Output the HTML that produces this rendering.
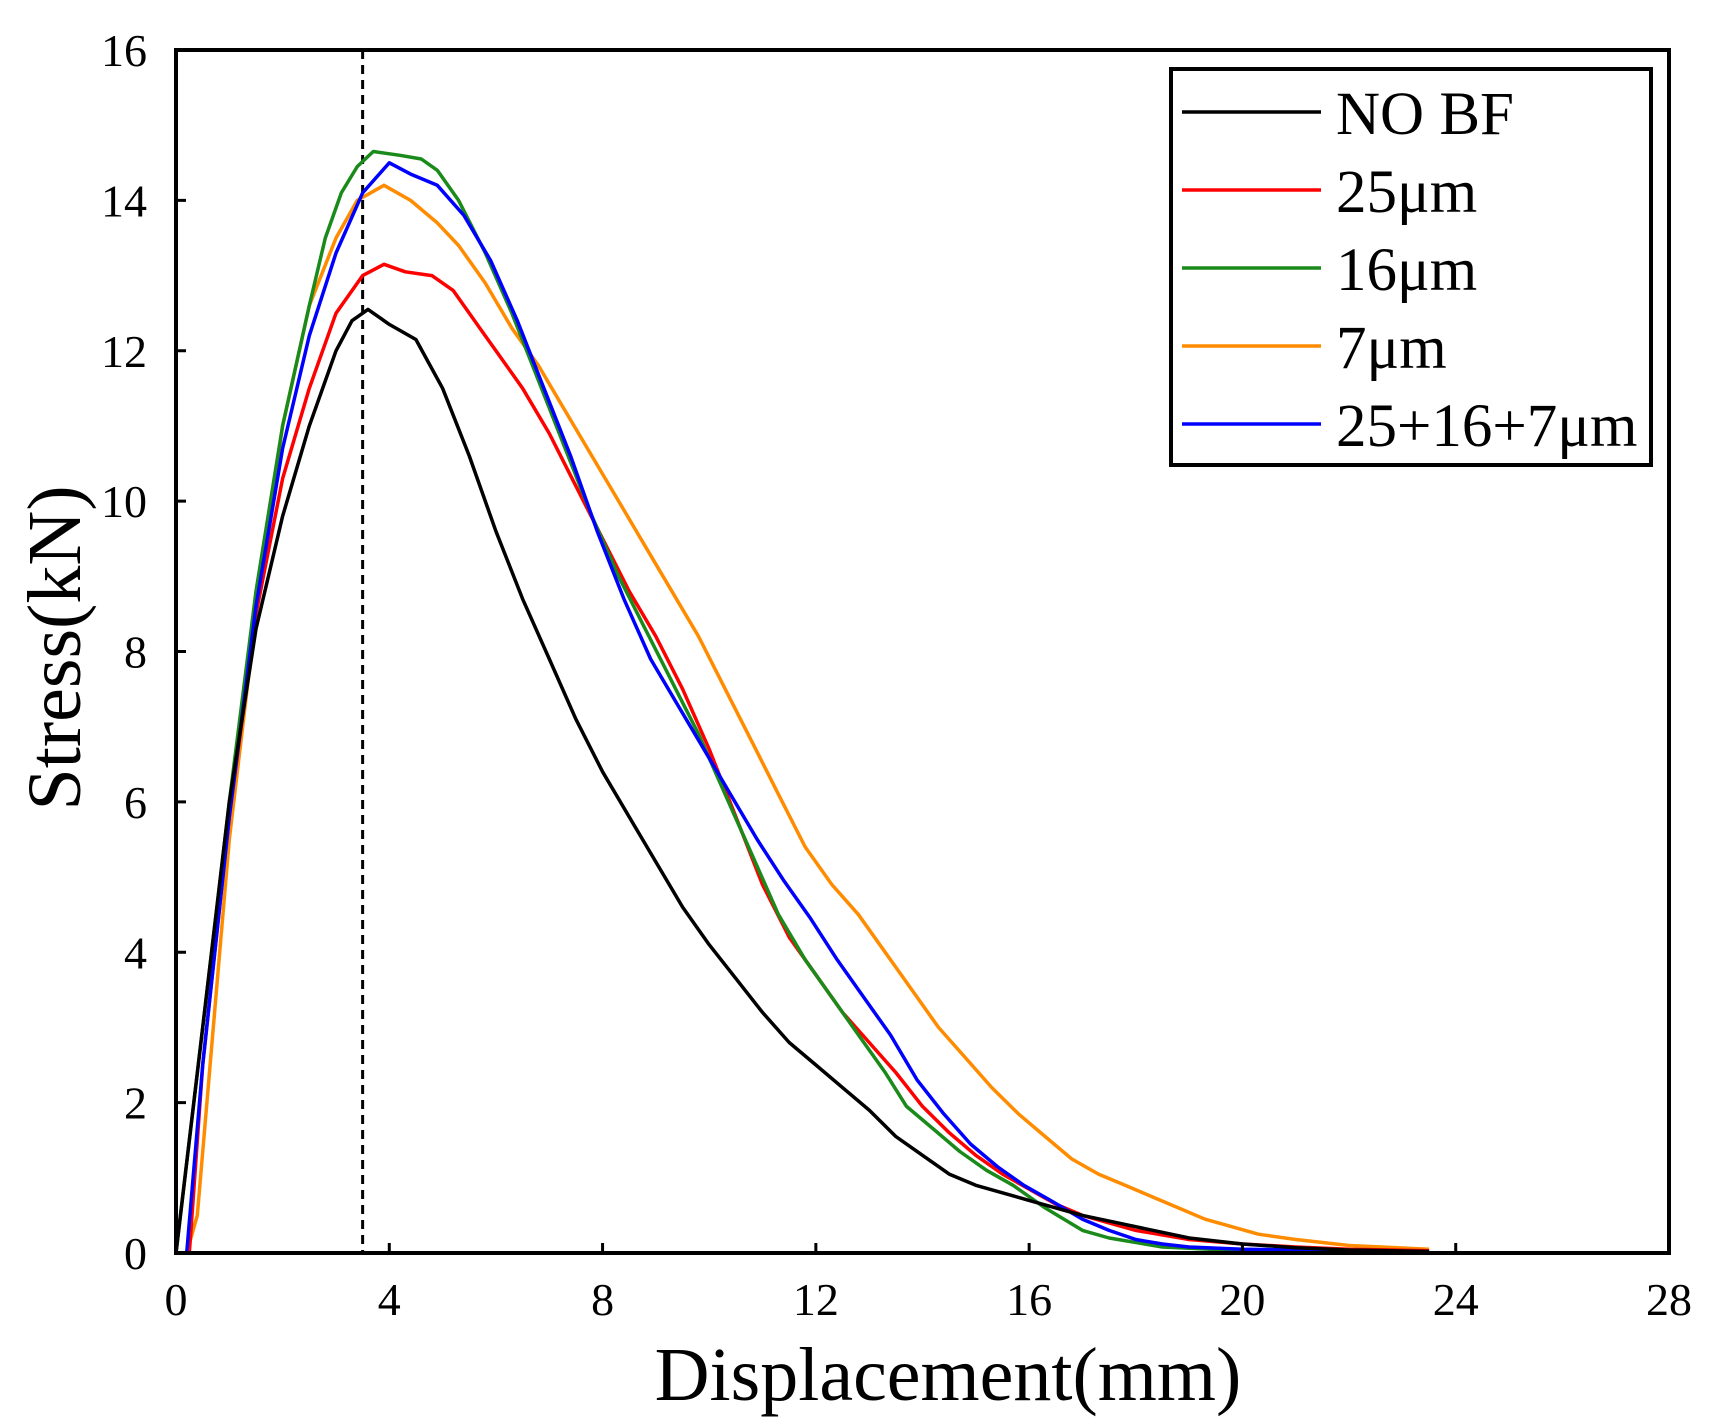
<!DOCTYPE html>
<html><head><meta charset="utf-8"><style>
body{margin:0;background:#fff}
svg{display:block}
text{font-family:"Liberation Serif",serif;fill:#000}
</style></head><body>
<svg id="chart" width="1714" height="1426" xmlns="http://www.w3.org/2000/svg">
<g id="series"></g>
<g id="axes"></g>
<g>
<rect x="1171" y="69" width="480" height="396" fill="#fff" stroke="#000" stroke-width="4"/>
<g id="legend-items"></g>
</g>
<text x="948" y="1400" font-size="76" text-anchor="middle">Displacement(mm)</text>
<text transform="translate(80,648) rotate(-90)" font-size="76" text-anchor="middle">Stress(kN)</text>
</svg>
<script>
const xTicks=[0,4,8,12,16,20,24,28];
const yTicks=[0,2,4,6,8,10,12,14,16];
const seriesNames=["NO BF","25μm","16μm","7μm","25+16+7μm"];
const seriesColors=["#000000","#ff0000","#1a8a1a","#ff8c00","#0000ff"];
const noBfX=[0,0.5,1,1.5,2,2.5,3,3.3,3.6,4,4.5,5,5.5,6,6.5,7,7.5,8,8.5,9,9.5,10,10.5,11,11.5,12,12.5,13,13.5,14,14.5,15,16,17,18,19,20,21,22,23.5];
const noBfY=[0,3,6,8.3,9.8,11,12,12.4,12.55,12.35,12.15,11.5,10.6,9.6,8.7,7.9,7.1,6.4,5.8,5.2,4.6,4.1,3.65,3.2,2.8,2.5,2.2,1.9,1.55,1.3,1.05,0.9,0.7,0.5,0.35,0.2,0.12,0.07,0.04,0.02];
const s25X=[0,0.25,0.5,1,1.5,2,2.5,3,3.5,3.9,4.3,4.8,5.2,5.7,6.5,7,7.5,8,8.5,9,9.5,10,10.5,11,11.5,12,12.5,13,13.5,14,14.5,15,15.5,16,16.5,17,18,19,20,21,22,23.5];
const s25Y=[0,0,2.5,5.8,8.5,10.3,11.5,12.5,13,13.15,13.05,13,12.8,12.3,11.5,10.9,10.2,9.5,8.8,8.2,7.5,6.7,5.8,4.9,4.2,3.7,3.2,2.8,2.4,1.95,1.6,1.3,1.05,0.85,0.65,0.5,0.3,0.18,0.12,0.08,0.05,0.03];
const s16X=[0,0.5,1,1.5,2,2.5,2.8,3.1,3.4,3.7,4.2,4.6,4.9,5.3,5.8,6.3,6.8,7.3,7.8,8.3,8.8,9.3,9.8,10.3,10.8,11.3,11.8,12.3,12.8,13.3,13.7,14.2,14.7,15.2,15.7,16.3,17,17.5,18.5,20,23.5];
const s16Y=[0,3,6,8.8,11,12.6,13.5,14.1,14.45,14.65,14.6,14.55,14.4,14,13.3,12.5,11.6,10.7,9.8,9,8.3,7.6,6.9,6.1,5.3,4.5,3.9,3.4,2.9,2.4,1.95,1.65,1.35,1.1,0.9,0.6,0.3,0.2,0.08,0.03,0.01];
const s7X=[0.2,0.4,0.7,1,1.5,2,2.5,3,3.4,3.9,4.4,4.9,5.3,5.8,6.3,6.8,7.3,7.8,8.3,8.8,9.3,9.8,10.3,10.8,11.3,11.8,12.3,12.8,13.3,13.8,14.3,14.8,15.3,15.8,16.3,16.8,17.3,17.8,18.3,18.8,19.3,19.8,20.3,21,22,23.5];
const s7Y=[0,0.5,3,5.5,8.5,11,12.6,13.5,14,14.2,14,13.7,13.4,12.9,12.3,11.8,11.2,10.6,10,9.4,8.8,8.2,7.5,6.8,6.1,5.4,4.9,4.5,4,3.5,3,2.6,2.2,1.85,1.55,1.25,1.05,0.9,0.75,0.6,0.45,0.35,0.25,0.18,0.1,0.05];
const blendX=[0,0.2,0.5,1,1.5,2,2.5,3,3.5,4,4.4,4.9,5.4,5.9,6.4,6.9,7.4,7.9,8.4,8.9,9.4,9.9,10.4,10.9,11.4,11.9,12.4,12.9,13.4,13.9,14.4,14.9,15.4,15.9,16.4,17,17.5,18,18.5,19,20,23.5];
const blendY=[0,0,2.5,5.8,8.6,10.7,12.2,13.3,14.1,14.5,14.35,14.2,13.8,13.2,12.4,11.5,10.6,9.6,8.7,7.9,7.3,6.7,6.1,5.5,4.95,4.45,3.9,3.4,2.9,2.3,1.85,1.45,1.15,0.9,0.7,0.45,0.3,0.18,0.12,0.08,0.05,0.01];
const peakLineX=3.5;

const L=176,R=1669,T=50,B=1253;
const sx=v=>L+v/28*(R-L);
const sy=v=>B-v/16*(B-T);
const NS="http://www.w3.org/2000/svg";
function mk(tag,attrs,parent){const e=document.createElementNS(NS,tag);for(const k in attrs)e.setAttribute(k,attrs[k]);parent.appendChild(e);return e;}
const sg=document.getElementById('series'),ag=document.getElementById('axes'),lg=document.getElementById('legend-items');
const allX=[noBfX,s25X,s16X,s7X,blendX],allY=[noBfY,s25Y,s16Y,s7Y,blendY];
const dl=mk('line',{x1:sx(peakLineX),x2:sx(peakLineX),y1:T,y2:B,stroke:'#000','stroke-width':3,'stroke-dasharray':'9,6'},sg);


[3,1,2,4,0].forEach(i=>{
  const d=allX[i].map((x,j)=>(j?'L':'M')+sx(x).toFixed(1)+','+sy(allY[i][j]).toFixed(1)).join('');
  const p=mk('path',{d:d,fill:'none',stroke:seriesColors[i],'stroke-width':3.5,'stroke-linejoin':'round'},sg);
  
  
});
const fr=mk('rect',{x:L,y:T,width:R-L,height:B-T,fill:'none',stroke:'#000','stroke-width':4},ag);


xTicks.forEach(v=>{
  const t=mk('line',{x1:sx(v),x2:sx(v),y1:B,y2:B-10,stroke:'#000','stroke-width':3},ag);
  
  
  const l=mk('text',{x:sx(v),y:B+62,'font-size':46,'text-anchor':'middle'},ag);
  l.textContent=v;
  
  
});
yTicks.forEach(v=>{
  const t=mk('line',{x1:L,x2:L+10,y1:sy(v),y2:sy(v),stroke:'#000','stroke-width':3},ag);
  
  
  const l=mk('text',{x:147,y:sy(v)+16,'font-size':46,'text-anchor':'end'},ag);
  l.textContent=v;
  
  
});
seriesNames.forEach((n,i)=>{
  const y=112+i*78;
  const ln=mk('line',{x1:1182,x2:1321,y1:y,y2:y,stroke:seriesColors[i],'stroke-width':3.5},lg);
  
  
  const tx=mk('text',{x:1336,y:y+22,'font-size':61},lg);
  tx.textContent=n;
  
  
});
</script>
</body></html>
